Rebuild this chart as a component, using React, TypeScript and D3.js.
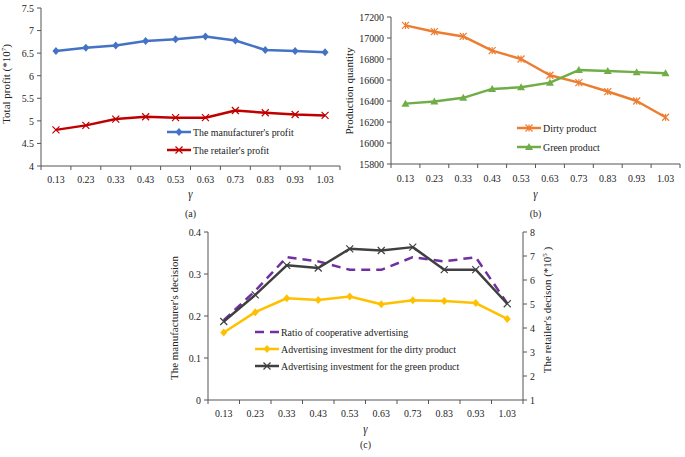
import React from "react";
import * as d3 from "d3";

const gammas = ["0.13", "0.23", "0.33", "0.43", "0.53", "0.63", "0.73", "0.83", "0.93", "1.03"];

const manufacturerProfit = [6.55, 6.62, 6.67, 6.77, 6.81, 6.87, 6.78, 6.57, 6.55, 6.52];
const retailerProfit = [4.8, 4.9, 5.04, 5.09, 5.07, 5.07, 5.23, 5.18, 5.14, 5.12];
const profitTicks = [4, 4.5, 5, 5.5, 6, 6.5, 7, 7.5];

const dirtyQty = [17120, 17060, 17015, 16880, 16800, 16645, 16575, 16490, 16400, 16245];
const greenQty = [16375, 16395, 16430, 16515, 16530, 16575, 16695, 16685, 16675, 16665];
const qtyTicks = [15800, 16000, 16200, 16400, 16600, 16800, 17000, 17200];

const coopRatio = [0.19, 0.26, 0.34, 0.33, 0.31, 0.31, 0.34, 0.33, 0.34, 0.23];
const dirtyAdv = [3.81, 4.66, 5.24, 5.17, 5.31, 4.99, 5.16, 5.12, 5.04, 4.38];
const greenAdv = [4.27, 5.38, 6.61, 6.5, 7.3, 7.23, 7.37, 6.43, 6.43, 5.01];
const leftTicksC = [0, 0.1, 0.2, 0.3, 0.4];
const rightTicksC = [1, 2, 3, 4, 5, 6, 7, 8];

const FONT = "'Liberation Serif', 'Times New Roman', serif";
const AXIS = "#555";
const SX = 0.9;

function HText(props: {
  x: number;
  y: number;
  anchor?: "start" | "middle" | "end";
  size?: number;
  italic?: boolean;
  dy?: string;
  children: React.ReactNode;
}) {
  return (
    <text
      transform={`translate(${props.x},${props.y}) scale(${SX},1)`}
      textAnchor={props.anchor || "start"}
      fontSize={props.size || 11}
      fontStyle={props.italic ? "italic" : undefined}
      dy={props.dy}
      fill="#222"
    >
      {props.children}
    </text>
  );
}

type MarkerKind = "diamond" | "x" | "star" | "triangle" | "none";

function Marker({ kind, x, y, color }: { kind: MarkerKind; x: number; y: number; color: string }) {
  const s = 3.5;
  if (kind === "diamond")
    return <path d={`M${x},${y - s - 0.5}L${x + s},${y}L${x},${y + s + 0.5}L${x - s},${y}Z`} fill={color} />;
  if (kind === "x")
    return (
      <path d={`M${x - s},${y - s}L${x + s},${y + s}M${x - s},${y + s}L${x + s},${y - s}`} stroke={color} strokeWidth={1.2} />
    );
  if (kind === "star")
    return (
      <path
        d={`M${x - s},${y - s}L${x + s},${y + s}M${x - s},${y + s}L${x + s},${y - s}M${x},${y - s}L${x},${y + s}`}
        stroke={color}
        strokeWidth={1.2}
      />
    );
  if (kind === "triangle")
    return <path d={`M${x},${y - s - 0.5}L${x + s + 0.5},${y + s - 0.5}L${x - s - 0.5},${y + s - 0.5}Z`} fill={color} />;
  return null;
}

type Series = {
  name: string;
  values: number[];
  color: string;
  marker: MarkerKind;
  dash?: string;
  axis?: "left" | "right";
};

function Panel(props: {
  x0: number;
  x1: number;
  yTop: number;
  yBot: number;
  domain: [number, number];
  ticks: number[];
  rightDomain?: [number, number];
  rightTicks?: number[];
  series: Series[];
  yLabel: React.ReactNode;
  yLabelX: number;
  yLabelY: number;
  rightLabel?: React.ReactNode;
  rightLabelX?: number;
  rightLabelY?: number;
  legendX: number;
  legendY: number;
  legendGap: number;
  caption: string;
  tickLabelY: number;
  gammaY: number;
  captionY: number;
}) {
  const xs = d3.scaleBand<string>().domain(gammas).range([props.x0, props.x1]);
  const ys = d3.scaleLinear().domain(props.domain).range([props.yBot, props.yTop]);
  const yr = props.rightDomain ? d3.scaleLinear().domain(props.rightDomain).range([props.yBot, props.yTop]) : null;
  const cx = (g: string) => (xs(g) as number) + xs.bandwidth() / 2;
  const boundaries = [...gammas.map((g) => xs(g) as number), props.x1];
  const midX = (props.x0 + props.x1) / 2;

  return (
    <g fontFamily={FONT}>
      {/* x axis */}
      <line x1={props.x0} x2={props.x1} y1={props.yBot} y2={props.yBot} stroke={AXIS} strokeWidth={1} />
      {boundaries.map((b, i) => (
        <line key={i} x1={b} x2={b} y1={props.yBot} y2={props.yBot + 4} stroke={AXIS} />
      ))}
      {gammas.map((g) => (
        <HText key={g} x={cx(g)} y={props.tickLabelY} anchor="middle">
          {g}
        </HText>
      ))}
      <HText x={midX} y={props.gammaY} anchor="middle" size={12} italic>
        γ
      </HText>
      <HText x={midX} y={props.captionY} anchor="middle">
        {props.caption}
      </HText>
      {/* left axis */}
      <line x1={props.x0} x2={props.x0} y1={props.yTop} y2={props.yBot} stroke={AXIS} />
      {props.ticks.map((t) => (
        <g key={t}>
          <line x1={props.x0 - 4} x2={props.x0} y1={ys(t)} y2={ys(t)} stroke={AXIS} />
          <HText x={props.x0 - 7} y={ys(t)} dy="0.35em" anchor="end">
            {String(t)}
          </HText>
        </g>
      ))}
      <text
        transform={`translate(${props.yLabelX},${props.yLabelY}) rotate(-90)`}
        textAnchor="middle"
        fontSize={11}
        fill="#222"
      >
        {props.yLabel}
      </text>
      {/* right axis */}
      {yr && props.rightTicks && (
        <g>
          <line x1={props.x1} x2={props.x1} y1={props.yTop} y2={props.yBot} stroke={AXIS} />
          {props.rightTicks.map((t) => (
            <g key={t}>
              <line x1={props.x1} x2={props.x1 + 4} y1={yr(t)} y2={yr(t)} stroke={AXIS} />
              <HText x={props.x1 + 7} y={yr(t)} dy="0.35em" anchor="start">
                {String(t)}
              </HText>
            </g>
          ))}
          <text
            transform={`translate(${props.rightLabelX},${props.rightLabelY}) rotate(-90)`}
            textAnchor="middle"
            fontSize={11}
            fill="#222"
          >
            {props.rightLabel}
          </text>
        </g>
      )}
      {/* series */}
      {props.series.map((s) => {
        const sc = s.axis === "right" && yr ? yr : ys;
        const line = d3
          .line<number>()
          .x((_, i) => cx(gammas[i]))
          .y((v) => sc(v));
        return (
          <g key={s.name}>
            <path
              d={line(s.values) as string}
              fill="none"
              stroke={s.color}
              strokeWidth={2.5}
              strokeDasharray={s.dash}
              strokeLinejoin="round"
            />
            {s.values.map((v, i) => (
              <Marker key={i} kind={s.marker} x={cx(gammas[i])} y={sc(v)} color={s.color} />
            ))}
          </g>
        );
      })}
      {/* legend */}
      {props.series.map((s, i) => {
        const ly = props.legendY + i * props.legendGap;
        return (
          <g key={s.name}>
            <line
              x1={props.legendX}
              x2={props.legendX + 24}
              y1={ly}
              y2={ly}
              stroke={s.color}
              strokeWidth={2.5}
              strokeDasharray={s.dash}
            />
            <Marker kind={s.marker} x={props.legendX + 12} y={ly} color={s.color} />
            <HText x={props.legendX + 26} y={ly} dy="0.35em">
              {s.name}
            </HText>
          </g>
        );
      })}
    </g>
  );
}

export default function App() {
  return (
    <svg width={685} height={457} style={{ position: "absolute", left: 0, top: 0, background: "#fff" }}>
      <rect width={685} height={457} fill="#fff" />
      <Panel
        x0={41}
        x1={340}
        yTop={8}
        yBot={166}
        domain={[4, 7.5]}
        ticks={profitTicks}
        series={[
          { name: "The manufacturer's profit", values: manufacturerProfit, color: "#4472C4", marker: "diamond" },
          { name: "The retailer's profit", values: retailerProfit, color: "#C00000", marker: "x" },
        ]}
        yLabel={
          <>
            Total profit (*10<tspan dy={-4} fontSize={7}>7</tspan>
            <tspan dy={4}>)</tspan>
          </>
        }
        yLabelX={10}
        yLabelY={84}
        legendX={167}
        legendY={132}
        legendGap={18}
        caption="(a)"
        tickLabelY={183}
        gammaY={198}
        captionY={217}
      />
      <Panel
        x0={391}
        x1={680}
        yTop={17}
        yBot={164}
        domain={[15800, 17200]}
        ticks={qtyTicks}
        series={[
          { name: "Dirty product", values: dirtyQty, color: "#ED7D31", marker: "star" },
          { name: "Green product", values: greenQty, color: "#70AD47", marker: "triangle" },
        ]}
        yLabel="Production quantity"
        yLabelX={353}
        yLabelY={91}
        legendX={517}
        legendY={128}
        legendGap={19}
        caption="(b)"
        tickLabelY={182}
        gammaY={198}
        captionY={217}
      />
      <Panel
        x0={208}
        x1={523}
        yTop={232}
        yBot={400}
        domain={[0, 0.4]}
        ticks={leftTicksC}
        rightDomain={[1, 8]}
        rightTicks={rightTicksC}
        series={[
          { name: "Ratio of cooperative advertising", values: coopRatio, color: "#7030A0", marker: "none", dash: "9,6" },
          {
            name: "Advertising investment for the dirty product",
            values: dirtyAdv,
            color: "#FFC000",
            marker: "diamond",
            axis: "right",
          },
          {
            name: "Advertising investment for the green product",
            values: greenAdv,
            color: "#404040",
            marker: "x",
            axis: "right",
          },
        ]}
        yLabel="The manufacturer's decision"
        yLabelX={178}
        yLabelY={318}
        rightLabel={
          <>
            The retailer's decison (*10<tspan dy={-4} fontSize={7}>5</tspan>
            <tspan dy={4}> )</tspan>
          </>
        }
        rightLabelX={551}
        rightLabelY={310}
        legendX={255}
        legendY={332}
        legendGap={17}
        caption="(c)"
        tickLabelY={417}
        gammaY={433}
        captionY={448}
      />
    </svg>
  );
}
